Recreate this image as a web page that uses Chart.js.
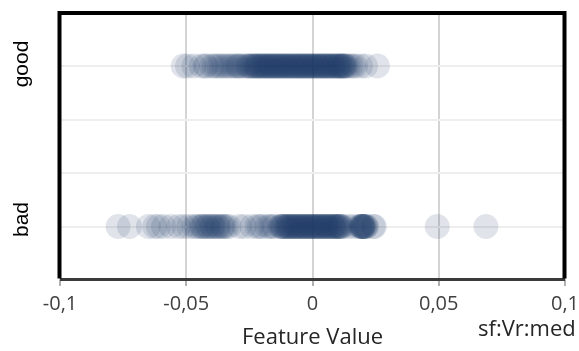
<!DOCTYPE html>
<html><head><meta charset="utf-8">
<script src="https://cdn.jsdelivr.net/npm/chart.js@4.4.0/dist/chart.umd.min.js"></script>
<style>
html,body{margin:0;padding:0;overflow:hidden;background:#fff;width:579px;height:351px}
#wrap{position:absolute;left:0;top:0;width:600px;height:351px}
</style></head>
<body><div id="wrap"><canvas id="c" width="600" height="351"></canvas></div>
<script>
// ---- data ----
const categories = ['bad', 'good'];
const categoryPositions = [1, 4];
const xTickLabels = ['-0,1', '-0,05', '0', '0,05', '0,1'];
const xAxisTitle = 'Feature Value';
const cornerNote = 'sf:Vr:med';

const goodValues = [
  -0.0512, -0.0495, -0.047, -0.044, -0.0425, -0.042, -0.040, -0.039, -0.038, -0.037,
  -0.036, -0.035, -0.034, -0.033, -0.032, -0.031, -0.030, -0.0295, -0.029, -0.028, -0.027,
  -0.026, -0.0255, -0.025, -0.0245, -0.024, -0.0235, -0.023, -0.0225, -0.022, -0.0215,
  -0.021, -0.0205, -0.020, -0.0195, -0.019, -0.0185, -0.018, -0.0175, -0.017, -0.0165,
  -0.016, -0.0155, -0.015, -0.0145, -0.014, -0.0135, -0.013, -0.0125, -0.012, -0.0115,
  -0.011, -0.0105, -0.010, -0.0095, -0.009, -0.0085, -0.008, -0.0075, -0.007, -0.0065,
  -0.006, -0.0055, -0.005, -0.0045, -0.004, -0.0035, -0.003, -0.0025, -0.002, -0.0015,
  -0.001, -0.0005, 0, 0.0005, 0.001, 0.0015, 0.002, 0.0025, 0.003, 0.0035,
  0.004, 0.0045, 0.005, 0.0055, 0.006, 0.0065, 0.007, 0.0075, 0.008, 0.0085,
  0.009, 0.0095, 0.010, 0.0105, 0.011, 0.0115, 0.012, 0.0125, 0.013,
  -0.022, -0.018, -0.014, -0.010, -0.006, -0.002, 0.002, 0.006, 0.010, 0.012,
  -0.020, -0.016, -0.012, -0.008, -0.004, 0, 0.004, 0.008, 0.011, 0.013,
  0.014, 0.015, 0.016, 0.017, 0.019, 0.021, 0.0257
];

const badValues = [
  -0.077, -0.0725, -0.065, -0.0625, -0.061, -0.059, -0.056, -0.053, -0.051, -0.049,
  -0.047, -0.046, -0.045, -0.044, -0.0435, -0.043, -0.042, -0.0415, -0.041, -0.040,
  -0.0395, -0.039, -0.038, -0.0375, -0.037, -0.036, -0.0355, -0.035, -0.034, -0.033,
  -0.029, -0.027, -0.024, -0.022, -0.021, -0.020, -0.018, -0.017, -0.016, -0.015,
  -0.013, -0.0125, -0.012, -0.0115, -0.011, -0.0105, -0.010, -0.0095, -0.009, -0.0085,
  -0.008, -0.0075, -0.007, -0.0065, -0.006, -0.0055, -0.005, -0.0045, -0.004, -0.0035,
  -0.003, -0.0025, -0.002, -0.0015, -0.001, -0.0005, 0, 0.0005, 0.001, 0.0015,
  0.002, 0.0025, 0.003, 0.0035, 0.004, 0.0045, 0.005, 0.0055, 0.006, 0.0065,
  0.007, 0.0075, 0.008, 0.0085, 0.009, 0.0095, 0.010, 0.0105, 0.011, 0.0115, 0.012,
  -0.012, -0.009, -0.006, -0.003, 0, 0.003, 0.006, 0.009, 0.011,
  -0.010, -0.007, -0.004, -0.001, 0.002, 0.005, 0.008, 0.010,
  0.014, 0.016, 0.018, 0.019, 0.019, 0.0195, 0.020, 0.020, 0.020, 0.0205, 0.021, 0.021,
  0.0215, 0.020, 0.0195, 0.024, 0.0245, 0.0494, 0.0687
];

// ---- styles ----
const dotColor = 'rgba(33,62,106,0.14)';

const toPoints = (vals, y) => vals.map(v => ({x: v, y: y}));

const frame = {
  id: 'frame',
  afterDraw(chart) {
    const {ctx, chartArea: a, scales} = chart;
    ctx.save();
    ctx.strokeStyle = '#3a3a3a';
    ctx.lineWidth = 3;
    ctx.beginPath(); ctx.moveTo(a.left, a.bottom - 0.5); ctx.lineTo(a.right, a.bottom - 0.5); ctx.stroke();
    ctx.strokeStyle = '#000';
    ctx.lineWidth = 4;
    ctx.beginPath();
    ctx.moveTo(a.left - 0.5, a.bottom - 1.5);
    ctx.lineTo(a.left - 0.5, a.top + 0.5);
    ctx.lineTo(a.right - 0.5, a.top + 0.5);
    ctx.lineTo(a.right - 0.5, a.bottom - 1.5);
    ctx.stroke();
    ctx.fillStyle = '#000';
    ctx.font = '21px "Liberation Sans", Arial, sans-serif';
    ctx.textAlign = 'center';
    ctx.textBaseline = 'alphabetic';
    const offs = [-7, -2];
    categories.forEach((c, i) => {
      const y = scales.y.getPixelForValue(categoryPositions[i]) + offs[i];
      ctx.save();
      ctx.translate(28, y);
      ctx.rotate(-Math.PI / 2);
      ctx.fillText(c, 0, 0);
      ctx.restore();
    });
    ctx.fillStyle = '#262626';
    ctx.font = '22px "Open Sans", sans-serif';
    ctx.textAlign = 'left';
    ctx.fillText(cornerNote, 478, 336);
    ctx.restore();
  }
};

new Chart(document.getElementById('c'), {
  type: 'scatter',
  data: {
    datasets: [
      {label: categories[1], data: toPoints(goodValues, categoryPositions[1]), backgroundColor: dotColor, borderWidth: 0, pointRadius: 12.5, pointHoverRadius: 12.5},
      {label: categories[0], data: toPoints(badValues, categoryPositions[0]), backgroundColor: dotColor, borderWidth: 0, pointRadius: 12.5, pointHoverRadius: 12.5}
    ]
  },
  options: {
    responsive: false,
    animation: false,
    devicePixelRatio: 1,
    layout: {padding: {left: 60, top: 10, right: 35, bottom: 0}},
    plugins: {legend: {display: false}, tooltip: {enabled: false}},
    scales: {
      x: {
        type: 'linear', min: -0.1, max: 0.1,
        ticks: {
          stepSize: 0.05,
          callback: (v, i) => xTickLabels[i],
          font: {family: 'Open Sans', size: 20},
          color: '#404040',
          padding: 6,
          maxRotation: 0
        },
        grid: {color: '#d4d4d4', lineWidth: 2, tickLength: 6, tickColor: '#b0b0b0', drawTicks: true},
        border: {display: false},
        title: {display: true, text: xAxisTitle, font: {family: 'Open Sans', size: 22}, color: '#262626', padding: 0},
        afterFit: s => { s.height = 71; }
      },
      y: {
        type: 'linear', min: 0, max: 5,
        ticks: {stepSize: 1, display: false},
        grid: {color: '#eeeeee', lineWidth: 2, drawTicks: false},
        border: {display: false},
        afterFit: s => { s.width = 0; }
      }
    }
  },
  plugins: [frame]
});
</script>
</body></html>
